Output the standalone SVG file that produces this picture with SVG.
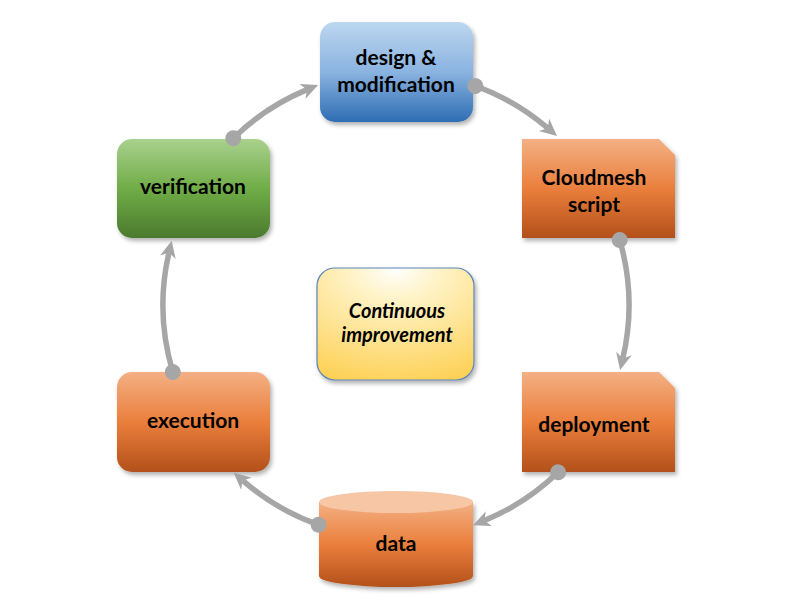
<svg xmlns="http://www.w3.org/2000/svg" width="792" height="612" viewBox="0 0 792 612">
<style>
.lbl{font-family:Lato,"Liberation Sans",sans-serif;font-weight:bold;font-size:21px;fill:#000;text-anchor:middle}
.ctr{font-family:Lato,"Liberation Sans",sans-serif;font-weight:bold;font-style:italic;font-size:20px;fill:#000;text-anchor:middle}
.conn{fill:none;stroke:#a6a6a6;stroke-width:5.5;marker-start:url(#dot);marker-end:url(#arr)}
</style>
<defs>
<linearGradient id="gBlue" x1="0" y1="0" x2="0" y2="1">
<stop offset="0" stop-color="#bdd7ef"/><stop offset="0.5" stop-color="#8ab3e0"/><stop offset="1" stop-color="#2e6db4"/>
</linearGradient>
<linearGradient id="gOrange" x1="0" y1="0" x2="0" y2="1">
<stop offset="0" stop-color="#f4b084"/><stop offset="0.5" stop-color="#ea7f3c"/><stop offset="1" stop-color="#b3501a"/>
</linearGradient>
<linearGradient id="gGreen" x1="0" y1="0" x2="0" y2="1">
<stop offset="0" stop-color="#a9d18e"/><stop offset="0.5" stop-color="#70ad47"/><stop offset="1" stop-color="#4b7a2e"/>
</linearGradient>
<radialGradient id="gYellow" cx="0.5" cy="0" r="1.1" fx="0.5" fy="0">
<stop offset="0" stop-color="#ffffff"/><stop offset="0.25" stop-color="#fff3c8"/><stop offset="1" stop-color="#fdcf4f"/>
</radialGradient>
<filter id="sh" x="-10%" y="-10%" width="130%" height="130%">
<feDropShadow dx="2" dy="3" stdDeviation="2" flood-color="#000" flood-opacity="0.3"/>
</filter>
<marker id="arr" markerUnits="userSpaceOnUse" viewBox="-6 -10 20 20" markerWidth="20" markerHeight="20" refX="0" refY="0" orient="auto">
<path d="M12,0 L-5,-8 L0,0 L-5,8 Z" fill="#a6a6a6"/>
</marker>
<marker id="dot" markerUnits="userSpaceOnUse" viewBox="-10 -10 20 20" markerWidth="20" markerHeight="20" refX="0" refY="0" orient="auto">
<circle cx="0" cy="0" r="8" fill="#a6a6a6"/>
</marker>
</defs>
<rect width="792" height="612" fill="#fff"/>

<g id="design">
<rect x="320" y="22" width="153" height="100" rx="15" fill="url(#gBlue)" filter="url(#sh)"/>
<text class="lbl" x="396" y="65">design &amp;</text>
<text class="lbl" x="396" y="92">modification</text>
</g>

<g id="cloudmesh">
<path d="M522,139 H659 L675,155 V238 H522 Z" fill="url(#gOrange)" filter="url(#sh)"/>
<text class="lbl" x="594" y="185">Cloudmesh</text>
<text class="lbl" x="594" y="212">script</text>
</g>

<g id="deployment">
<path d="M522,372 H659 L675,388 V472 H522 Z" fill="url(#gOrange)" filter="url(#sh)"/>
<text class="lbl" x="594" y="432">deployment</text>
</g>

<g id="data">
<path d="M319,502 V576 A77,11 0 0 0 473,576 V502 Z" fill="url(#gOrange)" filter="url(#sh)"/>
<ellipse cx="396" cy="502" rx="77" ry="11" fill="#f7c7a5"/>
<text class="lbl" x="396" y="551">data</text>
</g>

<g id="execution">
<rect x="117" y="372" width="153" height="100" rx="15" fill="url(#gOrange)" filter="url(#sh)"/>
<text class="lbl" x="193" y="428">execution</text>
</g>

<g id="verification">
<rect x="117" y="139" width="153" height="99" rx="15" fill="url(#gGreen)" filter="url(#sh)"/>
<text class="lbl" x="193" y="194">verification</text>
</g>

<g id="continuous">
<rect x="317" y="268" width="157" height="112" rx="18" fill="url(#gYellow)" stroke="#5a84b8" stroke-width="1.2" filter="url(#sh)"/>
<text class="ctr" x="397" y="318">Continuous</text>
<text class="ctr" x="397" y="342">improvement</text>
</g>

<g id="connectors">
<path class="conn" d="M475.3,85.9 A233,233 0 0 1 547.8,128.2"/>
<path class="conn" d="M619.7,240 A233,233 0 0 1 622.8,358.4"/>
<path class="conn" d="M558.1,472.3 A233,233 0 0 1 484.2,520.6"/>
<path class="conn" d="M318.6,524.8 A233,233 0 0 1 242.6,480.4"/>
<path class="conn" d="M172.8,372 A233,233 0 0 1 169,252.4"/>
<path class="conn" d="M233.3,138.2 A233,233 0 0 1 307,89.6"/>
</g>
</svg>
